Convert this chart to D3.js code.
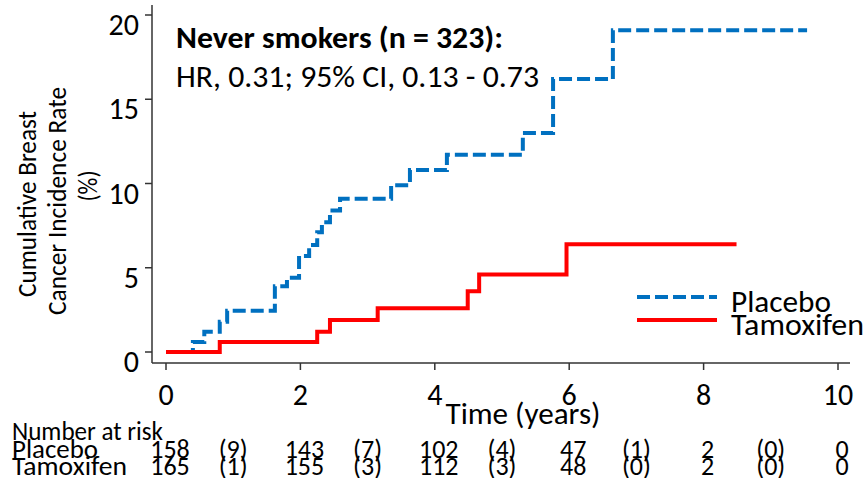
<!DOCTYPE html>
<html lang="en">
<head>
<meta charset="utf-8">
<title>Never smokers</title>
<script src="https://cdn.jsdelivr.net/npm/d3@7"></script>
<style>
  body { margin: 0; background: #fff; }
  svg text { font-family: Carlito, Lato, "Open Sans", sans-serif; fill: #000; }
  .axis path, .axis line { stroke: #333; stroke-width: 1.5px; }
</style>
</head>
<body>
<script>
// curves (years, cumulative %)
var placeboTimes = [0, 0.40, 0.57, 0.80, 0.91, 1.62, 1.80, 1.98, 2.13, 2.25, 2.32, 2.44, 2.59, 3.35, 3.63, 4.18, 5.31, 5.76, 6.65, 9.54];
var placeboRates = [0, 0.6, 1.2, 1.8, 2.45, 3.9, 4.4, 5.7, 6.35, 7.1, 7.7, 8.4, 9.1, 9.9, 10.8, 11.7, 13.0, 16.2, 19.1, 19.1];
var tamoxifenTimes = [0, 0.80, 2.25, 2.44, 3.15, 4.49, 4.66, 5.96, 8.49];
var tamoxifenRates = [0, 0.6, 1.2, 1.9, 2.6, 3.6, 4.6, 6.4, 6.4];

var xTicks = [0, 2, 4, 6, 8, 10];
var yTicks = [0, 5, 10, 15, 20];

// number at risk table
var riskYears = [0, 2, 4, 6, 8, 10];
var placeboAtRisk = [158, 143, 102, 47, 2, 0];
var tamoxifenAtRisk = [165, 155, 112, 48, 2, 0];
var eventYears = [1, 3, 5, 7, 9];
var placeboEvents = [9, 7, 4, 1, 0];
var tamoxifenEvents = [1, 3, 3, 0, 0];

var width = 864, height = 478;
var svg = d3.select("body").append("svg")
    .attr("width", width)
    .attr("height", height);

var x = d3.scaleLinear().domain([0, 10]).range([166, 838]);
var y = d3.scaleLinear().domain([0, 20]).range([352, 15]);

var axisX = 152, axisY = 363;

// axes
var gx = svg.append("g").attr("class", "axis");
gx.append("line")
    .attr("x1", axisX).attr("x2", 850)
    .attr("y1", axisY).attr("y2", axisY);
gx.selectAll(".tick")
    .data(xTicks)
  .enter().append("line")
    .attr("x1", x).attr("x2", x)
    .attr("y1", axisY).attr("y2", axisY + 7);
gx.selectAll("text")
    .data(xTicks)
  .enter().append("text")
    .attr("x", x)
    .attr("y", 405)
    .attr("text-anchor", "middle")
    .style("font-size", "30px")
    .text(function(d) { return d; });

var gy = svg.append("g").attr("class", "axis");
gy.append("line")
    .attr("x1", axisX).attr("x2", axisX)
    .attr("y1", 5).attr("y2", axisY);
gy.selectAll(".tick")
    .data(yTicks)
  .enter().append("line")
    .attr("x1", axisX - 7).attr("x2", axisX)
    .attr("y1", y).attr("y2", y);
gy.selectAll("text")
    .data(yTicks)
  .enter().append("text")
    .attr("x", 139)
    .attr("y", function(d) { return y(d) + 20; })
    .attr("text-anchor", "end")
    .style("font-size", "30px")
    .text(function(d) { return d; });

// axis titles
svg.append("text")
    .attr("x", 523).attr("y", 424)
    .attr("text-anchor", "middle")
    .attr("textLength", 155).attr("lengthAdjust", "spacingAndGlyphs")
    .style("font-size", "30px")
    .text("Time (years)");

var yTitle = [
  { t: "Cumulative Breast", x: 36, cy: 204, len: 186 },
  { t: "Cancer Incidence Rate", x: 66, cy: 201, len: 228 },
  { t: "(%)", x: 97, cy: 186, len: 31 }
];
svg.selectAll(".ytitle")
    .data(yTitle)
  .enter().append("text")
    .attr("class", "ytitle")
    .attr("transform", function(d) { return "translate(" + d.x + "," + d.cy + ") rotate(-90)"; })
    .attr("text-anchor", "middle")
    .attr("textLength", function(d) { return d.len; })
    .attr("lengthAdjust", "spacingAndGlyphs")
    .style("font-size", "27px")
    .text(function(d) { return d.t; });

// curves
var line = d3.line()
    .x(function(d) { return x(d[0]); })
    .y(function(d) { return y(d[1]); })
    .curve(d3.curveStepAfter);

svg.append("path")
    .datum(d3.zip(placeboTimes, placeboRates))
    .attr("d", line)
    .attr("fill", "none")
    .attr("stroke", "#0070C0")
    .attr("stroke-width", 4)
    .attr("stroke-dasharray", "13,5");

svg.append("path")
    .datum(d3.zip(tamoxifenTimes, tamoxifenRates))
    .attr("d", line)
    .attr("fill", "none")
    .attr("stroke", "#FF0000")
    .attr("stroke-width", 4);

// annotation
svg.append("text")
    .attr("x", 176).attr("y", 48)
    .attr("textLength", 327).attr("lengthAdjust", "spacingAndGlyphs")
    .style("font-size", "30px")
    .style("font-weight", "bold")
    .text("Never smokers (n = 323):");
svg.append("text")
    .attr("x", 176).attr("y", 87)
    .attr("textLength", 363).attr("lengthAdjust", "spacingAndGlyphs")
    .style("font-size", "30px")
    .text("HR, 0.31; 95% CI, 0.13 - 0.73");

// legend
var legend = [
  { name: "Placebo", color: "#0070C0", dash: "13,5", y: 297, len: 100 },
  { name: "Tamoxifen", color: "#FF0000", dash: null, y: 320, len: 133 }
];
var lg = svg.selectAll(".legend")
    .data(legend)
  .enter().append("g")
    .attr("class", "legend");
lg.append("line")
    .attr("x1", 637).attr("x2", 717)
    .attr("y1", function(d) { return d.y; })
    .attr("y2", function(d) { return d.y; })
    .attr("stroke", function(d) { return d.color; })
    .attr("stroke-width", 4)
    .attr("stroke-dasharray", function(d) { return d.dash; });
lg.append("text")
    .attr("x", 731)
    .attr("y", function(d) { return d.y + 15; })
    .attr("textLength", function(d) { return d.len; })
    .attr("lengthAdjust", "spacingAndGlyphs")
    .style("font-size", "30px")
    .text(function(d) { return d.name; });

// number at risk
var risk = svg.append("g").style("font-size", "26px");
risk.append("text")
    .attr("x", 12).attr("y", 440)
    .attr("textLength", 151).attr("lengthAdjust", "spacingAndGlyphs")
    .text("Number at risk");

var rows = [
  { name: "Placebo", y: 458, counts: placeboAtRisk, events: placeboEvents, len: 86 },
  { name: "Tamoxifen", y: 475, counts: tamoxifenAtRisk, events: tamoxifenEvents, len: 115 }
];
rows.forEach(function(r) {
  risk.append("text")
      .attr("x", 12).attr("y", r.y)
      .attr("textLength", r.len).attr("lengthAdjust", "spacingAndGlyphs")
      .text(r.name);
  risk.selectAll(null)
      .data(d3.zip(riskYears, r.counts))
    .enter().append("text")
      .attr("x", function(d) { return x(d[0]) + 4; })
      .attr("y", r.y)
      .attr("text-anchor", "middle")
      .text(function(d) { return d[1]; });
  risk.selectAll(null)
      .data(d3.zip(eventYears, r.events))
    .enter().append("text")
      .attr("x", function(d) { return x(d[0]); })
      .attr("y", r.y)
      .attr("text-anchor", "middle")
      .text(function(d) { return "(" + d[1] + ")"; });
});
</script>
</body>
</html>
